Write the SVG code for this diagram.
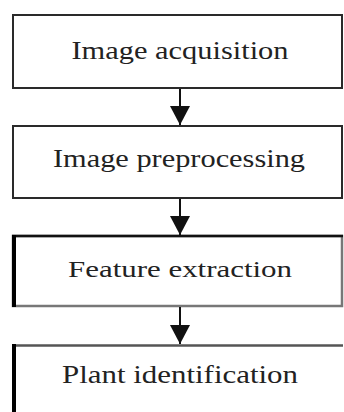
<svg xmlns="http://www.w3.org/2000/svg" width="344" height="412" viewBox="0 0 344 412">
  <style>
    .box { fill: #ffffff; stroke: #2a2a2a; stroke-width: 2; }
    .label { font-family: "Liberation Serif", "Times New Roman", serif; fill: #222222; text-anchor: middle; }
    .link { stroke: #111111; stroke-width: 2; fill: none; marker-end: url(#head); }
  </style>
  <defs>
    <marker id="head" markerUnits="userSpaceOnUse" markerWidth="22" markerHeight="22" viewBox="0 -11 20 22" refX="19" refY="0" orient="auto">
      <path d="M0,-10 L19,0 L0,10 z" fill="#111111"/>
    </marker>
  </defs>
  <rect width="344" height="412" fill="#ffffff"/>

  <g id="image-acquisition">
    <rect class="box" x="13" y="15" width="329" height="73"/>
    <text class="label" x="180" y="59" font-size="25.5" textLength="217" lengthAdjust="spacingAndGlyphs">Image acquisition</text>
  </g>

  <g id="image-preprocessing">
    <rect class="box" x="13" y="126" width="329" height="72"/>
    <text class="label" x="179" y="167" font-size="25.5" textLength="252" lengthAdjust="spacingAndGlyphs">Image preprocessing</text>
  </g>

  <g id="feature-extraction">
    <rect x="13" y="236" width="329" height="70" fill="#ffffff" stroke="#777777" stroke-width="2.5"/>
    <line x1="12" y1="236" x2="343" y2="236" stroke="#111111" stroke-width="2.5"/>
    <line x1="14" y1="235" x2="14" y2="307" stroke="#000000" stroke-width="4"/>
    <text class="label" x="180" y="277" font-size="23.5" textLength="224" lengthAdjust="spacingAndGlyphs">Feature extraction</text>
  </g>

  <g id="plant-identification">
    <line x1="12" y1="345.5" x2="343" y2="345.5" stroke="#555555" stroke-width="2.5"/>
    <line x1="14" y1="344" x2="14" y2="412" stroke="#000000" stroke-width="4"/>
    <text class="label" x="180" y="383" font-size="24.5" textLength="236" lengthAdjust="spacingAndGlyphs">Plant identification</text>
  </g>

  <g id="connectors">
    <line class="link" x1="180" y1="89" x2="180" y2="125"/>
    <line class="link" x1="180" y1="199" x2="180" y2="235"/>
    <line class="link" x1="180" y1="307" x2="180" y2="344"/>
  </g>
</svg>
